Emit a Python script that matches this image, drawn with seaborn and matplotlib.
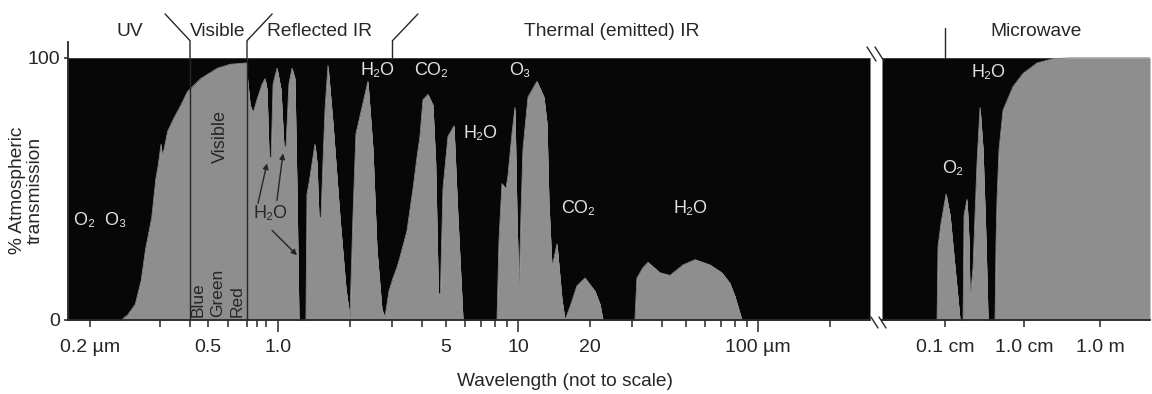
import numpy as np
import matplotlib
matplotlib.use("Agg")
import matplotlib.pyplot as plt
from matplotlib.lines import Line2D
import seaborn as sns

# Atmospheric transmission.
# Optical / infrared part: wavelength in micrometres, % transmission.
ir_wavelength_um = [0.1686, 0.24, 0.249, 0.26, 0.269, 0.276, 0.286, 0.293, 0.297, 0.303,
                    0.307, 0.323, 0.343, 0.367, 0.39, 0.456, 0.545, 0.611, 0.695, 0.71,
                    0.73, 0.76, 0.80, 0.856, 0.889, 0.908, 0.925, 0.942, 0.958, 0.992,
                    1.029, 1.059, 1.080, 1.111, 1.144, 1.177, 1.200, 1.223, 1.308, 1.321,
                    1.346, 1.426, 1.454, 1.482, 1.511, 1.540, 1.570, 1.616, 1.695, 1.813,
                    1.920, 1.995, 2.054, 2.113, 2.371, 2.488, 2.585, 2.712, 2.792, 2.90,
                    3.014, 3.131, 3.224, 3.448, 3.652, 3.795, 3.905, 4.019, 4.217, 4.423,
                    4.54, 4.66, 4.75, 4.870, 5.109, 5.412, 5.623, 5.902, 8.177, 8.333,
                    8.577, 8.913, 9.085, 9.441, 9.716, 9.904, 10.10, 10.29, 10.49, 11.01,
                    12.0, 12.83, 13.21, 13.46, 13.86, 14.54, 15.25, 15.70, 16.47, 17.61,
                    19.02, 20.94, 21.97, 22.61, 30.72, 31.31, 33.18, 34.81, 39.06, 42.99,
                    48.70, 54.65, 63.10, 70.79, 76.43, 80.20, 85.77, 293]
ir_transmission = [0, 0, 2, 6, 15, 27, 39, 54, 59, 67,
                   62, 72, 77, 82, 87, 92, 96, 97.5, 98, 90,
                   82, 79, 84, 90, 92, 88, 62, 62, 90, 96,
                   88, 66, 66, 90, 96, 92, 50, 0, 0, 48,
                   52, 67, 60, 39, 39, 60, 80, 97, 75, 39,
                   12, 1, 40, 71, 91, 65, 27, 4, 1, 11,
                   16, 20, 24, 34, 50, 62, 70, 84, 86, 82,
                   60, 10, 10, 50, 70, 74, 39, 0, 0, 30,
                   52, 50, 55, 71, 81, 40, 10, 40, 65, 85,
                   91, 85, 75, 45, 20, 29, 8, 0, 5, 13,
                   16, 11, 6, 0, 0, 16, 20, 22, 18, 17,
                   21, 23, 21, 18, 14, 9, 0, 0]

# Microwave part: wavelength in centimetres.
mw_wavelength_cm = [0.0159, 0.0792, 0.0815, 0.0890, 0.1030, 0.1157, 0.1262, 0.1419, 0.1548,
                    0.1690, 0.1740, 0.1898, 0.2013, 0.2073, 0.2262, 0.2541, 0.2774, 0.3027,
                    0.3304, 0.3503, 0.4295, 0.4422, 0.4551, 0.4826, 0.5423, 0.7258, 0.9712,
                    2.198, 5.797, 16.24, 2070]
mw_transmission = [0, 0, 28, 37, 48, 40, 28, 12, 0,
                   0, 40, 46, 30, 7, 20, 60, 81, 65,
                   30, 0, 0, 30, 46, 65, 80, 89, 94,
                   98, 99.6, 100, 100]

ir_tick_values = [0.2, 0.5, 1, 5, 10, 20, 100]
ir_tick_labels = ['0.2 µm', '0.5', '1.0', '5', '10', '20', '100 µm']
ir_minor_ticks = [0.3, 0.4, 0.6, 0.7, 0.8, 0.9, 2, 3, 4, 6, 7, 8, 9,
                  30, 40, 50, 60, 70, 80, 90, 200]
mw_tick_values = [0.1, 1, 100]
mw_tick_labels = ['0.1 cm', '1.0 cm', '1.0 m']

# The wavelength axis is "not to scale": each stretch gets its own width.
ir_anchor_um = [0.1686, 0.2, 0.3, 0.4, 0.5, 0.6, 0.7, 0.8, 0.9, 1, 10, 100, 1000]
ir_anchor_pos = [0, 22, 92, 122, 140, 160, 179, 189, 198, 210, 450, 690, 930]
mw_anchor_cm = [0.01, 0.1, 1, 100, 10000]
mw_anchor_pos = [-16, 63, 142, 218, 294]

BLACK = '#070707'
GREY = '#8e8e8e'
INK = '#262626'
LIGHT = '#e2e2e2'


def make_scale(values, positions):
    logs = np.log10(values)

    def forward(x):
        x = np.clip(np.asarray(x, dtype=float), 1e-9, None)
        return np.interp(np.log10(x), logs, positions)

    def inverse(p):
        return 10 ** np.interp(p, positions, logs)

    return forward, inverse


sns.set_theme(style='white')
plt.rcParams['font.family'] = ['Liberation Sans', 'DejaVu Sans']

W, H = 1152, 394
fig = plt.figure(figsize=(W / 100, H / 100), dpi=100)
ax1 = fig.add_axes([68 / W, 74 / H, 802 / W, 278 / H])
ax2 = fig.add_axes([882 / W, 74 / H, 268 / W, 278 / H])

panels = [
    (ax1, ir_wavelength_um, ir_transmission, ir_anchor_um, ir_anchor_pos),
    (ax2, mw_wavelength_cm, mw_transmission, mw_anchor_cm, mw_anchor_pos),
]
for ax, x, y, a_val, a_pos in panels:
    ax.set_xscale('function', functions=make_scale(a_val, a_pos))
    ax.set_facecolor('white')
    ax.fill_between(x, y, 100, color=BLACK, lw=0)
    ax.fill_between(x, 0, y, color=GREY, lw=0)
    sns.lineplot(x=x, y=y, ax=ax, color=GREY, lw=0.6, sort=False)
    ax.set_xlim(x[0], x[-1])
    ax.set_ylim(0, 106)
    ax.set_xlabel('')
    ax.set_ylabel('')
    for s in ['top', 'right']:
        ax.spines[s].set_visible(False)
    ax.spines['bottom'].set_color(INK)
    ax.spines['bottom'].set_linewidth(1.3)

ax2.spines['left'].set_visible(False)
ax1.spines['left'].set_color(INK)
ax1.spines['left'].set_linewidth(1.3)

# ticks
ax1.set_xticks(ir_tick_values)
ax1.set_xticklabels(ir_tick_labels)
ax1.set_xticks(ir_minor_ticks, minor=True)
ax2.set_xticks(mw_tick_values)
ax2.set_xticklabels(mw_tick_labels)
ax2.set_xticks([], minor=True)
for ax in (ax1, ax2):
    ax.tick_params(axis='x', which='both', direction='inout', length=10, width=1.1,
                   color=INK, labelsize=14, labelcolor=INK, pad=9, bottom=True)
ax1.set_yticks([0, 100])
ax1.set_yticklabels(['0', '100'])
ax1.tick_params(axis='y', direction='out', length=3, width=1.1, color=INK,
                labelsize=14, labelcolor=INK, pad=3, left=True)
ax2.set_yticks([])
for t, v in zip(ax1.xaxis.get_major_ticks(), ir_tick_values):
    if v in (1, 10, 100):
        t.tick1line.set_markersize(17)

# visible band boundaries
ax1.vlines([0.4, 0.7], 0, 100, color=INK, lw=1)

# region separators above the plot
sep = dict(color=INK, lw=1, clip_on=False)
ax1.plot([0.4, 0.4, 0.315], [100, 106.5, 116.7], **sep)
ax1.plot([0.7, 0.7, 0.95], [100, 106.5, 116.7], **sep)
ax1.plot([3.0, 3.0, 3.83], [100, 106.5, 116.7], **sep)
ax2.plot([0.1, 0.1], [100, 111.5], **sep)

top = dict(fontsize=13.8, color=INK, ha='center', va='center', clip_on=False)
ax1.text(0.252, 110, 'UV', **top)
ax1.text(0.548, 110, 'Visible', **top)
ax1.text(1.496, 110, 'Reflected IR', **top)
ax1.text(24.6, 110, 'Thermal (emitted) IR', **top)
ax2.text(2.07, 110, 'Microwave', **top)

# gas labels
gas = dict(fontsize=13, color=LIGHT, ha='center', va='center')
ax1.text(0.212, 38, 'O₂  O₃', **gas)
ax1.text(2.61, 95, 'H₂O', **gas)
ax1.text(4.34, 95, 'CO₂', **gas)
ax1.text(10.2, 95, 'O₃', **gas)
ax1.text(7.01, 71, 'H₂O', **gas)
ax1.text(17.8, 42.6, 'CO₂', **gas)
ax1.text(52.1, 42.6, 'H₂O', **gas)
ax2.text(0.35, 94.3, 'H₂O', **gas)
ax2.text(0.126, 57.8, 'O₂', **gas)

dark = dict(fontsize=13, color=INK, ha='center', va='center')
ax1.text(0.94, 40.7, 'H₂O', **dark)
arrow = dict(arrowstyle='-|>', color=INK, lw=1, mutation_scale=8, shrinkA=0, shrinkB=0)
ax1.annotate('', xy=(0.908, 59.7), xytext=(0.8105, 44.5), arrowprops=arrow)
ax1.annotate('', xy=(1.049, 63.5), xytext=(0.991, 45.6), arrowprops=arrow)
ax1.annotate('', xy=(1.20, 24.7), xytext=(0.949, 34.2), arrowprops=arrow)

ax1.text(0.558, 70, 'Visible', rotation=90, **dark)
band = dict(fontsize=12.5, color=INK, ha='center', va='bottom', rotation=90)
ax1.text(0.442, 1, 'Blue', **band)
ax1.text(0.548, 1, 'Green', **band)
ax1.text(0.6465, 1, 'Red', **band)

fig.text(26 / W, 1 - 190 / H, '% Atmospheric\ntransmission', rotation=90,
         ha='center', va='center', fontsize=13.8, color=INK, linespacing=1.05)
fig.text(565 / W, 1 - 382 / H, 'Wavelength (not to scale)', ha='center', va='center',
         fontsize=13.8, color=INK)

# axis break marks
for (x0, y0, x1, y1) in [(867, 47, 876, 61), (875, 47, 884, 61),
                         (871, 317, 878, 328), (879, 317, 886, 328)]:
    fig.add_artist(Line2D([x0 / W, x1 / W], [1 - y0 / H, 1 - y1 / H],
                          color=INK, lw=1, transform=fig.transFigure))

fig.savefig('out.png', dpi=100, facecolor='white')
